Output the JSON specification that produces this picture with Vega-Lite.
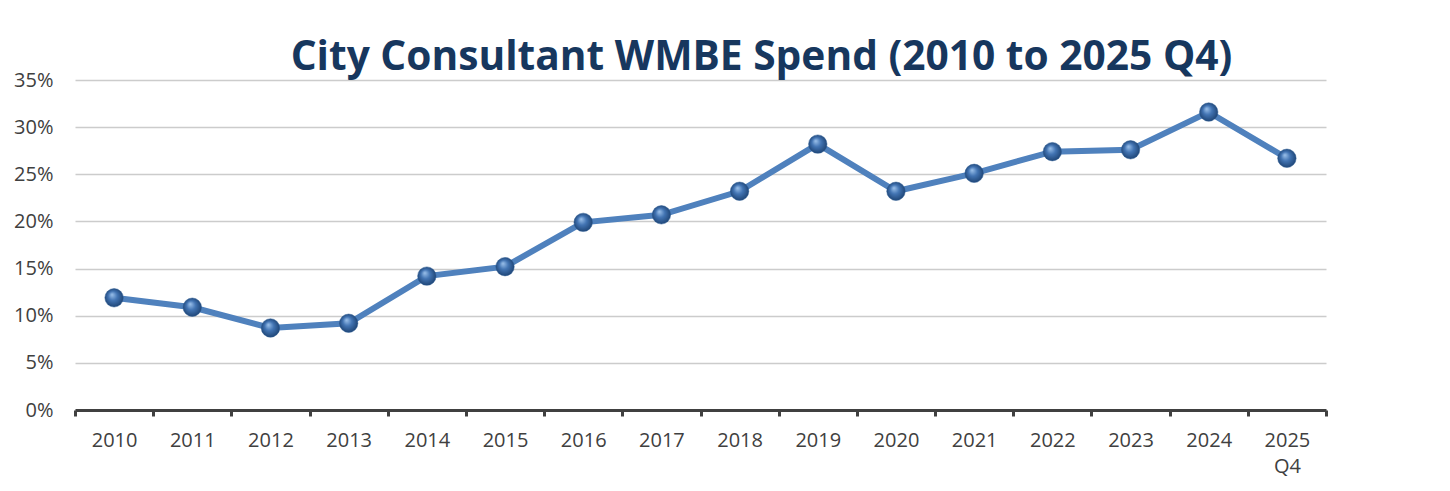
{
  "$schema": "https://vega.github.io/schema/vega-lite/v6.json",
  "width": 1251,
  "height": 330,
  "autosize": {"type": "none"},
  "padding": {"left": 75, "top": 80, "right": 124, "bottom": 81},
  "background": "white",
  "title": {
    "text": "City Consultant WMBE Spend (2010 to 2025 Q4)",
    "font": "Open Sans",
    "fontSize": 40.7,
    "fontWeight": "bold",
    "color": "#17375E",
    "anchor": "middle",
    "baseline": "alphabetic",
    "offset": 8,
    "dx": 61,
    "dy": 49
  },
  "config": {
    "view": {"stroke": null},
    "axis": {"labelFont": "Open Sans", "labelFontSize": 20, "labelColor": "#404040"}
  },
  "data": {
    "values": [
      {"year": "2010", "pct": 0.119},
      {"year": "2011", "pct": 0.109},
      {"year": "2012", "pct": 0.087},
      {"year": "2013", "pct": 0.092},
      {"year": "2014", "pct": 0.142},
      {"year": "2015", "pct": 0.152},
      {"year": "2016", "pct": 0.199},
      {"year": "2017", "pct": 0.207},
      {"year": "2018", "pct": 0.232},
      {"year": "2019", "pct": 0.282},
      {"year": "2020", "pct": 0.232},
      {"year": "2021", "pct": 0.251},
      {"year": "2022", "pct": 0.274},
      {"year": "2023", "pct": 0.276},
      {"year": "2024", "pct": 0.316},
      {"year": "2025 Q4", "pct": 0.267}
    ]
  },
  "encoding": {
    "x": {
      "field": "year",
      "type": "ordinal",
      "sort": null,
      "bandPosition": 0.5,
      "scale": {"type": "band", "paddingInner": 0, "paddingOuter": 0},
      "axis": {
        "title": null,
        "labelAngle": 0,
        "labelPadding": 14,
        "labelBaseline": "top",
        "labelLineHeight": 26,
        "labelExpr": "datum.label == '2025 Q4' ? ['2025', 'Q4'] : datum.label",
        "domainColor": "#404040",
        "domainWidth": 3,
        "tickColor": "#404040",
        "tickWidth": 3,
        "tickSize": 6,
        "tickBand": "extent",
        "grid": false
      }
    },
    "y": {
      "field": "pct",
      "type": "quantitative",
      "scale": {"domain": [0, 0.35], "nice": false},
      "axis": {
        "title": null,
        "values": [0, 0.05, 0.1, 0.15, 0.2, 0.25, 0.3, 0.35],
        "format": ".0%",
        "domain": false,
        "ticks": false,
        "labelPadding": 22,
        "grid": true,
        "gridColor": "#cccccc",
        "gridWidth": 1.5
      }
    }
  },
  "layer": [
    {"mark": {"type": "line", "color": "#4F81BD", "strokeWidth": 6}},
    {
      "mark": {
        "type": "point",
        "filled": true,
        "size": 340,
        "opacity": 1,
        "fill": {
          "gradient": "radial",
          "x1": 0.38, "y1": 0.32, "r1": 0,
          "x2": 0.5, "y2": 0.5, "r2": 0.55,
          "stops": [
            {"offset": 0, "color": "#9ec3ec"},
            {"offset": 0.45, "color": "#4274b3"},
            {"offset": 1, "color": "#1b406f"}
          ]
        },
        "stroke": "#2b5a92",
        "strokeWidth": 0.5
      }
    }
  ]
}
